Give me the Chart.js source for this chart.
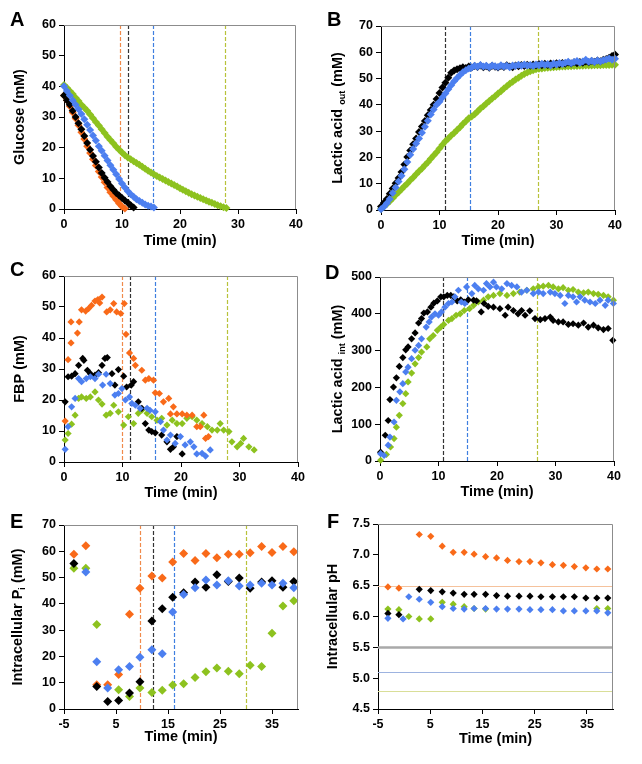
<!DOCTYPE html>
<html>
<head>
<meta charset="utf-8">
<script src="https://cdn.jsdelivr.net/npm/chart.js@4.4.1/dist/chart.umd.min.js"></script>
<style>
  html, body { margin: 0; padding: 0; background: #fff; }
  #fig { position: relative; width: 642px; height: 764px; background: #fff; }
  #fig canvas { position: absolute; }
</style>
</head>
<body>
<div id="fig">
  <canvas id="cA" width="320" height="250" style="left:0px;top:0px"></canvas>
  <canvas id="cB" width="322" height="250" style="left:320px;top:0px"></canvas>
  <canvas id="cC" width="320" height="250" style="left:0px;top:250px"></canvas>
  <canvas id="cD" width="322" height="250" style="left:320px;top:250px"></canvas>
  <canvas id="cE" width="320" height="264" style="left:0px;top:500px"></canvas>
  <canvas id="cF" width="322" height="264" style="left:320px;top:500px"></canvas>
</div>
<script>
// ---- tick labels ----
const ticksTime = [0, 10, 20, 30, 40];
const ticksTimeShift = [-5, 5, 15, 25, 35];
const ticksGlucose = [0, 10, 20, 30, 40, 50, 60];
const ticksLacOut = [0, 10, 20, 30, 40, 50, 60, 70];
const ticksFBP = [0, 10, 20, 30, 40, 50, 60];
const ticksLacInt = [0, 100, 200, 300, 400, 500];
const ticksPi = [0, 10, 20, 30, 40, 50, 60, 70];
const ticksPH = [4.5, 5.0, 5.5, 6.0, 6.5, 7.0, 7.5];

// ---- A: glucose (mM) ----
const timeA = [0,0.5,1,1.5,2,2.5,3,3.5,4,4.5,5,5.5,6,6.5,7,7.5,8,8.5,9,9.5,10,10.5,11,11.5,12,12.5,13,13.5,14,14.5,15,15.5,16,16.5,17,17.5,18,18.5,19,19.5,20,20.5,21,21.5,22,22.5,23,23.5,24,24.5,25,25.5,26,26.5,27,27.5,28];
const glucBlack = [37,35.5,34,32,30,28,26,23.8,21.5,19.3,17.3,15.4,13.5,11.7,10.2,8.8,7.4,6.3,5.2,4.4,3.6,2.8,2.0,1.2,0.5];
const glucOrange = [37,35.5,33.5,31.5,29.5,27.3,25,22.8,20.5,18.3,16.2,14.2,12.2,10.4,8.7,7,5.5,4.2,3,1.8,0.8,0.2];
const glucBlue = [40,38.5,37,35.5,34,32.5,31,29.3,27.5,25.8,24,22.3,20.5,19,17.4,15.8,14.3,12.8,11.3,9.8,8.3,7,5.8,4.8,4,3.2,2.6,2,1.5,1.1,0.8,0.5];
const glucGreen = [40.4,39.5,38.5,37.5,36.3,35.2,34,33,32,30.8,29.6,28.4,27.2,26,24.8,23.6,22.5,21.4,20.3,19.3,18.4,17.5,16.8,16.2,15.6,15,14.4,13.8,13.1,12.5,11.9,11.3,10.8,10.3,9.8,9.3,8.8,8.3,7.8,7.3,6.8,6.3,5.8,5.3,4.8,4.4,4,3.6,3.2,2.8,2.4,2,1.6,1.2,0.9,0.6,0.3];
const cutA = [9.7, 11.1, 15.4, 27.8]; // orange, black, blue, green

// ---- B: lactic acid out (mM) ----
const timeB = [0,0.5,1,1.5,2,2.5,3,3.5,4,4.5,5,5.5,6,6.5,7,7.5,8,8.5,9,9.5,10,10.5,11,11.5,12,12.5,13,13.5,14,14.5,15,15.5,16,16.5,17,17.5,18,18.5,19,19.5,20,20.5,21,21.5,22,22.5,23,23.5,24,24.5,25,25.5,26,26.5,27,27.5,28,28.5,29,29.5,30,30.5,31,31.5,32,32.5,33,33.5,34,34.5,35,35.5,36,36.5,37,37.5,38,38.5,39,39.5,40];
const lacOutBlack = [1.3,2.8,4.2,6.2,8.2,10.2,12.2,14.5,17.3,20.2,22.6,25,27.2,29.7,31.8,33.9,36,38,40,42.2,44.5,46.6,48.4,50.3,52.2,53.1,53.5,53.9,54.3,54.0,54.6,54.2,54.8,54.4,55.0,54.3,54.7,54.1,54.9,54.5,54.2,54.8,54.4,55.1,54.6,54.3,55.0,54.7,55.2,54.8,55.3,54.9,55.4,55.0,55.5,55.1,55.6,55.2,55.7,55.3,55.8,55.4,55.9,55.6,56.1,55.7,56.2,55.8,56.3,56.0,56.5,56.2,56.7,56.4,56.9,56.6,57.2,57.4,57.9,58.6,59.2];
const lacOutBlue = [0.3,1.2,2.6,4.2,6.5,8.6,10.8,13,15.5,18.3,21,23.2,25.3,27.2,29.4,31.7,34,36.3,38.2,40,41.2,42.8,44.3,45.9,47.5,49,50.2,51.4,52.4,53.2,53.8,54.2,54.9,54.5,55.2,54.6,54.9,54.3,55.0,54.7,54.4,55.1,54.6,54.9,54.3,55.0,54.8,55.3,54.9,55.4,55.0,55.2,54.8,55.4,55.1,55.6,55.2,55.5,55.0,55.7,55.4,55.9,55.5,56.0,56.4,55.8,56.3,56.7,56.0,56.5,57.2,56.4,56.8,56.3,56.9,56.5,57.0,57.3,57.6,57.2,57.5];
const lacOutGreen = [0.5,1.3,2.3,3.3,4.5,5.7,6.8,7.9,9.0,10.1,11.3,12.4,13.6,14.7,15.8,17,18.2,19.5,20.7,22,23.4,24.8,26.2,27.2,28.3,29.3,30.4,31.5,32.7,33.8,34.9,35.6,36.4,37.5,38.6,39.5,40.5,41.5,42.4,43.3,44.3,45.2,46.2,47.1,48,48.8,49.6,50.3,51.1,51.7,52.3,52.8,53.2,53.5,53.7,53.8,54.0,54.1,54.2,54.3,54.4,54.5,54.6,54.6,54.7,54.7,54.8,54.8,54.9,54.9,55.0,55.0,55.0,55.1,55.1,55.1,55.2,55.2,55.2,55.3,55.3];
const cutB = [10.9, 15.2, 26.8]; // black, blue, green

// ---- C: FBP (mM) ----
const fbpOrangeT = [0.2,0.7,1.2,1.2,2.6,2.3,3.0,3.7,4.2,4.7,5.3,5.8,6.5,6.1,7.3,7.9,8.5,9.0,9.7,10.3,10.6,11.2,11.9,12.2,13.3,13.9,14.5,15.3,15.6,16.3,17.0,17.9,18.7,18.2,19.3,20.2,21.0,21.9,22.7,23.3,23.9,24.2,24.7];
const fbpOrange = [13.2,33,38.4,45.2,45.2,41.6,49.1,48.7,49.5,50.5,51.9,52.4,53.2,51.3,48.4,49.1,51.1,48.4,47.9,51.1,41.2,35.2,33.4,31.2,29.6,26.4,26.9,26.4,22.3,22.1,19.4,20.5,17.8,15.5,15.5,15.5,15.1,15.1,11.4,11.4,15.1,7.6,8.2];
const fbpBlackT = [0.2,0.7,1.3,1.9,2.5,3.2,3.4,4.0,4.5,5.3,5.9,6.5,7.0,7.4,8.2,8.7,9.3,10.2,10.7,11.5,11.9,12.7,13.3,13.9,14.5,15.0,15.6,16.7,17.6,18.2,18.7,19.3,20.2];
const fbpBlack = [19.4,27.5,27.7,28.5,31.2,33.4,32.8,29.6,28.5,28.0,28.8,31.2,33.4,33.7,28.5,24.8,29.8,27.7,24.2,24.8,25.9,19.4,17.3,12.4,10.3,9.8,9.4,8.7,6.5,4.1,4.9,8.2,2.6];
const fbpBlueT = [0.2,0.7,1.3,1.9,2.5,3.0,3.8,4.5,5.3,5.9,6.6,7.2,7.9,8.7,9.3,9.9,10.5,11.2,11.6,12.2,13.0,14.2,14.7,15.6,16.5,17.0,17.6,18.2,19.0,19.9,20.7,21.6,22.2,22.7,23.6,24.2,25.0];
const fbpBlue = [4.1,11.4,17.8,20.5,26.9,25.9,26.9,27.5,26.9,28.3,24.8,28.3,25.3,21.6,22.1,23.7,20.0,21.0,18.9,18.3,17.3,17.3,16.7,16.2,13.0,10.3,7.1,8.7,6.0,8.2,5.5,6.5,4.9,2.6,2.8,1.9,3.9];
const fbpGreenT = [0.2,0.7,1.3,1.9,2.5,3.0,3.8,4.5,5.3,5.9,6.5,7.2,7.9,8.5,9.3,10.2,11.0,11.9,12.7,13.3,14.2,15.0,15.9,16.7,17.6,18.5,19.3,20.2,21.0,21.9,22.7,23.6,24.5,25.3,26.2,26.7,27.3,28.2,28.7,29.6,30.2,30.7,31.6,32.5];
const fbpGreen = [7.1,9.2,12.2,15.1,20.5,21.0,20.5,21.0,22.6,20.0,18.7,15.1,15.7,18.3,16.2,11.9,14.6,12.4,15.7,16.7,15.7,14.6,13.5,14.1,11.9,13.5,12.4,12.4,14.1,14.6,13.5,12.4,11.4,10.3,10.3,12.4,10.3,9.8,6.5,4.9,6.0,7.6,4.9,3.9];
const cutC = [9.9, 11.3, 15.6, 27.9];

// ---- D: lactic acid int (mM) ----
const lacIntBlackT = [0.1,0.9,1.4,1.7,2.3,2.8,3.3,3.9,4.4,4.8,5.4,6.0,6.6,7.1,7.5,8.1,8.7,9.2,9.8,10.4,10.9,11.5,12.1,12.6,13.2,13.8,14.4,15.1,16.0,16.5,17.3,17.8,18.5,19.4,20.5,21.4,21.9,22.8,23.6,24.2,24.8,25.6,26.5,27.4,28.2,29.1,29.6,30.5,31.3,32.2,33.0,33.9,34.8,35.6,36.5,37.3,38.2,39.0,39.8];
const lacIntBlack = [24,70,110,167,201,226,257,281,302,310,332,348,375,387,402,405,418,429,435,446,446,450,450,446,435,438,432,438,437,435,405,428,420,418,414,396,418,409,400,409,396,408,387,384,387,391,382,378,378,371,373,369,375,364,369,362,357,360,328];
const lacIntBlueT = [0.1,0.7,1.4,1.7,2.4,2.8,3.4,3.9,4.4,4.8,5.4,6.0,6.6,7.1,7.9,8.4,8.8,9.4,10.0,10.5,11.1,11.7,12.3,12.8,13.4,13.9,14.5,14.8,15.7,16.2,16.8,17.7,18.2,18.8,19.4,19.9,20.8,21.7,22.5,23.4,24.2,25.1,26.2,27.1,27.9,29.1,29.9,30.8,31.6,32.2,33.0,33.6,34.2,35.0,35.9,36.8,37.6,38.5,39.0,39.9];
const lacIntBlue = [20,15,43,65,106,165,188,210,242,255,278,301,314,332,364,378,391,400,396,405,418,428,432,446,464,432,428,473,455,477,468,464,482,473,486,473,468,482,477,473,459,464,455,459,455,459,455,450,428,450,446,432,446,437,432,428,437,423,437,428];
const lacIntGreenT = [0.1,1.1,1.8,2.4,2.8,3.3,3.9,4.4,4.8,5.4,6.0,6.6,7.1,8.0,8.5,9.1,9.8,10.4,10.9,11.7,12.3,13.0,13.7,14.4,15.3,16.0,16.8,17.7,18.5,19.4,20.5,21.7,22.8,23.9,25.1,26.2,27.1,27.9,28.8,29.6,30.5,31.3,32.2,33.0,33.9,34.8,35.6,36.5,37.3,38.2,39.0,39.9];
const lacIntGreen = [2,18,38,61,92,124,156,183,215,239,264,281,296,310,332,341,355,364,371,382,387,396,400,409,414,423,432,437,446,450,455,450,455,459,464,468,473,475,477,473,468,471,464,466,459,457,459,455,453,450,446,437];
const cutD = [10.7, 14.9, 26.9];

// ---- E: intracellular Pi (mM) ----
const timeE = [-3.1,-0.8,1.3,3.4,5.5,7.6,9.6,11.9,13.9,15.9,18.0,20.2,22.3,24.4,26.6,28.7,30.8,33.0,35.0,37.1,39.2];
const piOrange = [58.9,62.1,9.2,9.2,13.1,36.0,45.9,50.6,49.8,55.9,59.2,56.5,59.2,57.5,58.9,58.9,59.4,61.8,59.5,61.8,59.8];
const piBlack = [55.4,null,8.6,2.9,3.2,6.1,10.4,33.5,38.1,42.5,44.2,48.3,46.3,51.1,48.5,49.8,45.9,48.3,48.8,46.3,48.5];
const piBlue = [null,52.1,18.0,8.0,14.9,16.2,19.7,22.5,21.0,36.9,43.6,46.1,49.1,47.2,48.8,46.8,47.2,47.8,47.2,47.8,46.1];
const piGreen = [53.5,53.5,32.1,null,7.3,4.8,8.0,6.3,7.1,9.1,9.6,12.0,14.2,15.6,14.4,13.4,16.6,16.2,28.8,39.2,41.2];
const cutE = [9.6, 12.1, 16.2, 30.0];

// ---- F: intracellular pH ----
const timeF = [-3.1,-1.0,2.9,5.1,7.3,9.4,11.5,13.4,15.6,17.7,19.8,22.0,24.1,26.2,28.4,30.5,32.6,34.8,36.9,39.0];
const phOrange = [6.48,6.46,7.33,7.30,7.14,7.04,7.04,7.01,6.97,6.95,6.91,6.89,6.89,6.87,6.84,6.83,6.81,6.79,6.77,6.77];
const phBlack = [6.05,6.03,6.44,6.42,6.40,6.38,6.36,6.36,6.36,6.34,6.33,6.33,6.33,6.32,6.32,6.32,6.32,6.30,6.30,6.30];
const phBlueT = [-3.1,-0.2,0.9,2.9,5.1,7.3,9.4,11.5,13.4,15.6,17.7,19.8,22.0,24.1,26.2,28.4,30.5,32.6,34.8,36.9,39.0];
const phBlue = [5.97,5.96,6.32,6.28,6.23,6.16,6.13,6.12,6.13,6.13,6.12,6.12,6.12,6.11,6.11,6.11,6.09,6.09,6.09,6.09,6.06];
const phGreenT = [-3.1,-1.0,0.9,2.9,5.1,7.3,9.4,11.5,13.4,15.6,36.9,39.0];
const phGreen = [6.12,6.11,6.00,5.96,5.96,6.23,6.20,6.16,6.13,6.12,6.13,6.13];
const phRef = [6.5, 5.5, 5.1, 4.8]; // orange, black, blue, green reference levels

// ---- styling ----
const ORANGE = '#F96A19', BLACK = '#000000', BLUE = '#4C7FF0', GREEN = '#8DC21F';
const FONT = '"Liberation Sans", Arial, Helvetica, sans-serif';
const tickFont = { family: FONT, size: 12.5, weight: 'bold' };

function pts(xs, ys) {
  const out = [];
  ys.forEach((y, i) => { if (y !== null) out.push({ x: xs[i], y: y }); });
  return out;
}

function ds(xs, ys, color, r) {
  return {
    data: pts(xs, ys),
    backgroundColor: color,
    borderColor: color,
    borderWidth: 0,
    pointStyle: 'rectRot',
    pointRadius: r,
    pointHoverRadius: r,
    clip: false
  };
}

function panel(id, p) {
  const cv = document.getElementById(id);
  const W = cv.width, H = cv.height;

  const decor = {
    id: 'decor',
    beforeDatasetsDraw(chart) {
      const { ctx, chartArea: a, scales } = chart;
      ctx.save();
      ctx.lineWidth = 1.2;
      ctx.setLineDash([4, 2]);
      (p.vlines || []).forEach(l => {
        const x = Math.round(scales.x.getPixelForValue(l[0])) + 0.5;
        ctx.strokeStyle = l[1];
        ctx.beginPath(); ctx.moveTo(x, a.top); ctx.lineTo(x, a.bottom); ctx.stroke();
      });
      ctx.setLineDash([]);
      (p.hlines || []).forEach(l => {
        const y = Math.round(scales.y.getPixelForValue(l[0])) + 0.5;
        ctx.strokeStyle = l[1];
        ctx.lineWidth = l[2];
        ctx.beginPath(); ctx.moveTo(a.left, y); ctx.lineTo(a.right, y); ctx.stroke();
      });
      ctx.restore();
    },
    afterDraw(chart) {
      const { ctx, chartArea: a } = chart;
      ctx.save();
      // grey top and right frame
      const t = Math.round(a.top) + 0.5, r = Math.round(a.right) - 0.5;
      ctx.strokeStyle = '#8c8c8c';
      ctx.lineWidth = 1;
      ctx.beginPath();
      ctx.moveTo(a.left, t); ctx.lineTo(r, t); ctx.lineTo(r, a.bottom);
      ctx.stroke();

      ctx.fillStyle = '#000';
      // panel letter
      ctx.font = 'bold 20px ' + FONT;
      ctx.textAlign = 'left';
      ctx.textBaseline = 'alphabetic';
      ctx.fillText(p.letter, p.lx, p.ly);
      // x title
      ctx.font = 'bold 14.5px ' + FONT;
      ctx.textAlign = 'center';
      ctx.textBaseline = 'middle';
      ctx.fillText('Time (min)', (a.left + a.right) / 2, p.xty);
      // y title, with subscripts
      ctx.translate(p.ytx, (a.top + a.bottom) / 2);
      ctx.rotate(-Math.PI / 2);
      const big = 'bold 14.5px ' + FONT, small = 'bold 9px ' + FONT;
      let total = 0;
      p.ytitle.forEach(s => { ctx.font = s[1] ? small : big; total += ctx.measureText(s[0]).width; });
      let x = -total / 2;
      ctx.textAlign = 'left';
      p.ytitle.forEach(s => {
        ctx.font = s[1] ? small : big;
        ctx.fillText(s[0], x, s[1] ? 5 : 0);
        x += ctx.measureText(s[0]).width;
      });
      ctx.restore();
    }
  };

  const axis = (ticks, min, max, fmt, fitFn) => ({
    type: 'linear',
    min: min,
    max: max,
    afterBuildTicks: ax => { ax.ticks = ticks.map(v => ({ value: v })); },
    afterFit: fitFn,
    ticks: { font: tickFont, color: '#000', padding: 3, maxRotation: 0, autoSkip: false, callback: fmt },
    grid: { drawOnChartArea: false, drawTicks: true, tickLength: 5, color: '#000', lineWidth: 1 },
    border: { display: true, color: '#000', width: 1 }
  });

  new Chart(cv, {
    type: 'scatter',
    data: { datasets: p.datasets },
    options: {
      responsive: false,
      animation: false,
      events: [],
      layout: { padding: { top: p.plot.t, right: W - p.plot.r, left: 0, bottom: 0 } },
      plugins: { legend: { display: false }, tooltip: { enabled: false } },
      scales: {
        x: axis(p.xTicks, p.xTicks[0], 40, v => String(v), ax => { ax.height = H - p.plot.b; }),
        y: axis(p.yTicks, p.yTicks[0], p.yTicks[p.yTicks.length - 1], p.yFmt || (v => String(v)), ax => { ax.width = p.plot.l; })
      }
    },
    plugins: [decor]
  });
}

const DASH_O = '#F08A4B', DASH_K = '#333333', DASH_B = '#3F7FE0', DASH_G = '#B8C23A';

panel('cA', {
  letter: 'A', lx: 10, ly: 26, ytx: 20, xty: 241,
  plot: { l: 64, t: 25, r: 296, b: 209 },
  xTicks: ticksTime, yTicks: ticksGlucose,
  ytitle: [['Glucose (mM)', false]],
  vlines: [[cutA[0], DASH_O], [cutA[1], DASH_K], [cutA[2], DASH_B], [cutA[3], DASH_G]],
  datasets: [
    ds(timeA, glucBlue, BLUE, 4),
    ds(timeA, glucBlack, BLACK, 4),
    ds(timeA, glucOrange, ORANGE, 4),
    ds(timeA, glucGreen, GREEN, 4)
  ]
});

panel('cB', {
  letter: 'B', lx: 7, ly: 26, ytx: 18, xty: 241,
  plot: { l: 61, t: 26, r: 295, b: 210 },
  xTicks: ticksTime, yTicks: ticksLacOut,
  ytitle: [['Lactic acid ', false], ['out', true], [' (mM)', false]],
  vlines: [[cutB[0], DASH_K], [cutB[1], DASH_B], [cutB[2], DASH_G]],
  datasets: [
    ds(timeB, lacOutBlue, BLUE, 4),
    ds(timeB, lacOutBlack, BLACK, 4),
    ds(timeB, lacOutGreen, GREEN, 4)
  ]
});

panel('cC', {
  letter: 'C', lx: 10, ly: 26, ytx: 20, xty: 243,
  plot: { l: 64, t: 26, r: 298, b: 212 },
  xTicks: ticksTime, yTicks: ticksFBP,
  ytitle: [['FBP (mM)', false]],
  vlines: [[cutC[0], DASH_O], [cutC[1], DASH_K], [cutC[2], DASH_B], [cutC[3], DASH_G]],
  datasets: [
    ds(fbpBlueT, fbpBlue, BLUE, 3.6),
    ds(fbpBlackT, fbpBlack, BLACK, 3.6),
    ds(fbpOrangeT, fbpOrange, ORANGE, 3.6),
    ds(fbpGreenT, fbpGreen, GREEN, 3.6)
  ]
});

panel('cD', {
  letter: 'D', lx: 5, ly: 29, ytx: 18, xty: 242,
  plot: { l: 60, t: 27, r: 294, b: 211 },
  xTicks: ticksTime, yTicks: ticksLacInt,
  ytitle: [['Lactic acid ', false], ['int', true], [' (mM)', false]],
  vlines: [[cutD[0], DASH_K], [cutD[1], DASH_B], [cutD[2], DASH_G]],
  datasets: [
    ds(lacIntBlueT, lacIntBlue, BLUE, 3.6),
    ds(lacIntBlackT, lacIntBlack, BLACK, 3.6),
    ds(lacIntGreenT, lacIntGreen, GREEN, 3.6)
  ]
});

panel('cE', {
  letter: 'E', lx: 10, ly: 28, ytx: 18, xty: 237,
  plot: { l: 64, t: 25, r: 298, b: 209 },
  xTicks: ticksTimeShift, yTicks: ticksPi,
  ytitle: [['Intracellular P', false], ['i', true], [' (mM)', false]],
  vlines: [[cutE[0], DASH_O], [cutE[1], DASH_K], [cutE[2], DASH_B], [cutE[3], DASH_G]],
  datasets: [
    ds(timeE, piBlue, BLUE, 4.5),
    ds(timeE, piBlack, BLACK, 4.5),
    ds(timeE, piOrange, ORANGE, 4.5),
    ds(timeE, piGreen, GREEN, 4.5)
  ]
});

panel('cF', {
  letter: 'F', lx: 7, ly: 28, ytx: 13, xty: 239,
  plot: { l: 58, t: 24, r: 293, b: 209 },
  xTicks: ticksTimeShift, yTicks: ticksPH, yFmt: v => v.toFixed(1),
  ytitle: [['Intracellular pH', false]],
  hlines: [[phRef[0], '#F5C29C', 1.2], [phRef[1], '#A9A9A9', 2.5], [phRef[2], '#9DB3E0', 1.2], [phRef[3], '#D9DE98', 1.2]],
  datasets: [
    ds(phBlueT, phBlue, BLUE, 3.6),
    ds(timeF, phBlack, BLACK, 3.6),
    ds(timeF, phOrange, ORANGE, 3.6),
    ds(phGreenT, phGreen, GREEN, 3.6)
  ]
});
</script>
</body>
</html>
